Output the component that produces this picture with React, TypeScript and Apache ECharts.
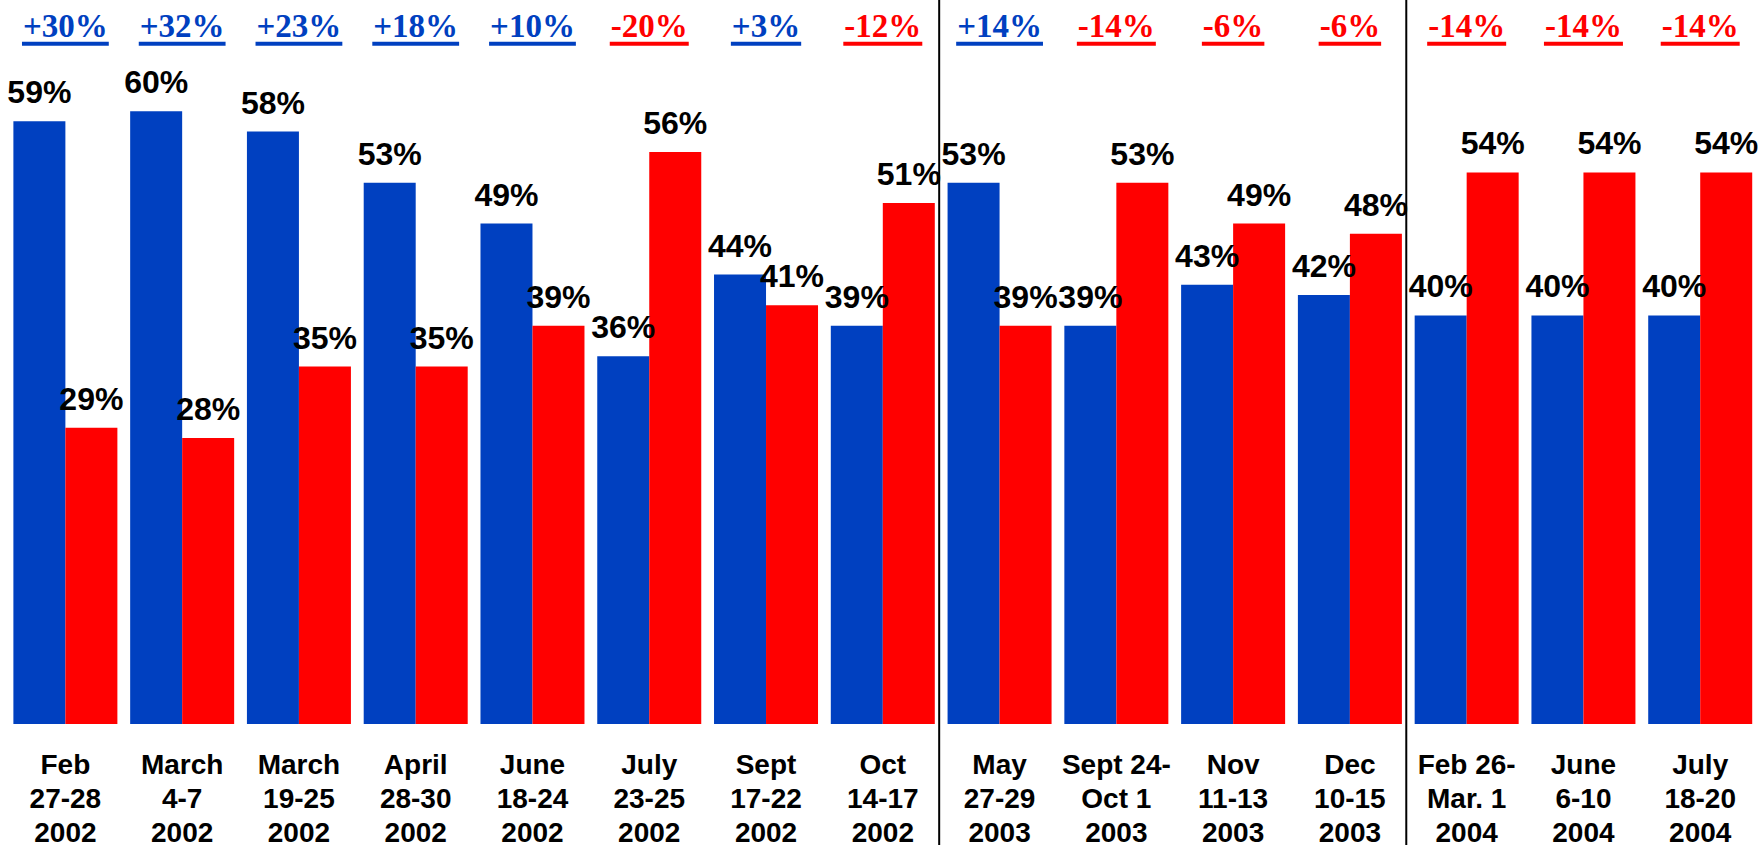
import React, { useEffect, useRef } from "react";
import * as echarts from "echarts";

const categories = [
  "Feb\n27-28\n2002",
  "March\n4-7\n2002",
  "March\n19-25\n2002",
  "April\n28-30\n2002",
  "June\n18-24\n2002",
  "July\n23-25\n2002",
  "Sept\n17-22\n2002",
  "Oct\n14-17\n2002",
  "May\n27-29\n2003",
  "Sept 24-\nOct 1\n2003",
  "Nov\n11-13\n2003",
  "Dec\n10-15\n2003",
  "Feb 26-\nMar. 1\n2004",
  "June\n6-10\n2004",
  "July\n18-20\n2004",
];

const blueValues = [59, 60, 58, 53, 49, 36, 44, 39, 53, 39, 43, 42, 40, 40, 40];
const redValues = [29, 28, 35, 35, 39, 56, 41, 51, 39, 53, 49, 48, 54, 54, 54];

// separators after these category indices (between groups of years)
const separatorsAfter = [7, 11];

const BLUE = "#0040C0";
const RED = "#FF0000";
const MARGIN_ROW = 66.6;

const charW: Record<string, number> = { "+": 0.57, "-": 0.333, "%": 1.0 };
const textWidth = (s: string, size: number) =>
  s.split("").reduce((a, c) => a + (charW[c] !== undefined ? charW[c] : 0.5), 0) * size;

export default function App() {
  const ref = useRef<HTMLDivElement>(null);
  useEffect(() => {
    if (!ref.current) return;
    const chart = echarts.init(ref.current, null, { renderer: "svg" });
    const margins = blueValues.map((b, i) => b - redValues[i]);
    const marginData = margins.map((m, i) => {
      const txt = (m > 0 ? "+" : "") + m + "%";
      const col = m > 0 ? BLUE : RED;
      return {
        value: [i, MARGIN_ROW],
        txt,
        symbolSize: [textWidth(txt, 33) + 2, 4],
        itemStyle: { color: col, opacity: 1 },
        label: {
          color: col,
          fontWeight: "bold",
          fontSize: 33,
          fontFamily: "'Liberation Serif', 'Times New Roman', serif",
        },
      };
    });
    const valueLabel = {
      show: true,
      position: "top",
      distance: 13,
      formatter: "{c}%",
      color: "#000",
      fontFamily: "'Liberation Sans', Arial, sans-serif",
      fontWeight: "bold",
      fontSize: 32,
    };
    chart.setOption({
      animation: false,
      backgroundColor: "#fff",
      grid: { left: 7, width: 1751.6, top: 9, bottom: 126, outerBoundsMode: "none", containLabel: false },
      xAxis: {
        type: "category",
        data: categories,
        axisLine: { show: false },
        axisTick: { show: false },
        axisLabel: {
          interval: 0,
          margin: 23,
          color: "#000",
          fontFamily: "'Liberation Sans', Arial, sans-serif",
          fontWeight: "bold",
          fontSize: 28,
          lineHeight: 34,
        },
      },
      yAxis: {
        type: "value",
        min: 0,
        max: 70,
        show: false,
        splitLine: { show: false },
      },
      series: [
        {
          type: "bar",
          name: "Blue",
          data: blueValues,
          barWidth: 52,
          barGap: "0%",
          itemStyle: { color: BLUE },
          label: valueLabel,
        },
        {
          type: "bar",
          name: "Red",
          data: redValues,
          barWidth: 52,
          barGap: "0%",
          itemStyle: { color: RED },
          label: valueLabel,
        },
        {
          type: "scatter",
          name: "Margin",
          symbol: "rect",
          itemStyle: { opacity: 1 },
          data: marginData,
          label: {
            show: true,
            position: "top",
            distance: -1,
            formatter: (p: any) => p.data.txt,
            fontFamily: "'Liberation Serif', 'Times New Roman', serif",
            fontWeight: "bold",
            fontSize: 33,
          },
        },
      ],
    });
    const graphics = separatorsAfter.map((idx) => {
      const a = chart.convertToPixel({ xAxisIndex: 0 }, idx) as number;
      const b = chart.convertToPixel({ xAxisIndex: 0 }, idx + 1) as number;
      const x = (a + b) / 2 - 2;
      return {
        type: "line",
        shape: { x1: x, y1: 0, x2: x, y2: 845 },
        style: { stroke: "#000", lineWidth: 2 },
        silent: true,
      };
    });
    chart.setOption({ graphic: graphics });
    return () => chart.dispose();
  }, []);
  return (
    <div
      ref={ref}
      style={{ position: "fixed", left: 0, top: 0, width: 1761, height: 850 }}
    />
  );
}
